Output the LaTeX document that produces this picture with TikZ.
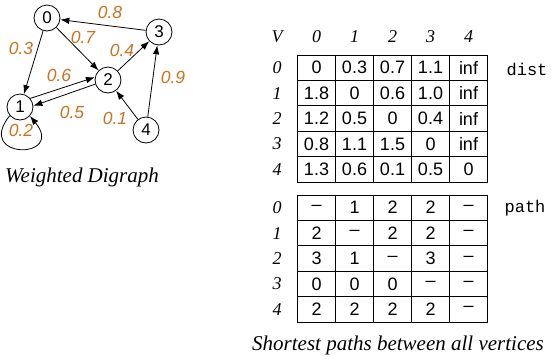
\documentclass[tikz,border=0pt]{standalone}
\usepackage{fontspec}
\setmainfont{Liberation Serif}
\newfontfamily\sansf{Liberation Sans}
\newfontfamily\monof{Liberation Mono}
\usetikzlibrary{arrows.meta}
\definecolor{wcol}{RGB}{200,115,30}
\begin{document}
\begin{tikzpicture}[x=1pt,y=-1pt,
  vert/.style={circle,draw,line width=0.8pt,minimum size=26pt,inner sep=0pt,font=\sansf\fontsize{17}{17}\selectfont},
  edge/.style={line width=0.8pt,-{Latex[length=9pt,width=6.5pt]}},
  wt/.style={text=wcol,font=\sansf\itshape\fontsize{17.5}{17.5}\selectfont,inner sep=0pt},
  cell/.style={draw,line width=0.8pt,minimum width=38pt,minimum height=25.4pt,inner sep=0pt,font=\sansf\fontsize{18}{18}\selectfont},
  lbl/.style={font=\itshape\fontsize{18}{18}\selectfont,inner sep=0pt},
  captext/.style={font=\itshape\fontsize{21}{21}\selectfont,inner sep=0pt},
  tag/.style={font=\monof\fontsize{17}{17}\selectfont,inner sep=0pt}]
\useasboundingbox (0,0) rectangle (556,360);
% graph
\node[vert] (n0) at (47,18) {0};
\node[vert] (n1) at (20,107) {1};
\node[vert] (n2) at (108,80) {2};
\node[vert] (n3) at (159,32) {3};
\node[vert] (n4) at (146,130) {4};
\draw[edge] (n3) -- (n0);
\draw[edge] (n0) -- (n1);
\draw[edge] (n0) -- (n2);
\draw[edge] (n2) -- (n3);
\draw[edge] (n1.40) -- (n2.168);
\draw[edge] (n2.198) -- (n1.5);
\draw[edge] (n4) -- (n2);
\draw[edge] (n4) -- (n3);
\draw[edge] (n1.220) .. controls (-26,160) and (66,160) .. (n1.-42);
\node[wt] (w8) at (110,12) {0.8};
\node[wt] (w7) at (83,37) {0.7};
\node[wt] (w3) at (21,48) {0.3};
\node[wt] (w6) at (59,75) {0.6};
\node[wt] (w4) at (122,50) {0.4};
\node[wt] (w9) at (173,77) {0.9};
\node[wt] (w5) at (72,112) {0.5};
\node[wt] (w1) at (115,118) {0.1};
\node[wt] (w2) at (21,130) {0.2};
\node[captext] (capg) at (82,177) {Weighted Digraph};
% table headers
\node[lbl] (hv) at (277,37) {V};
\foreach \c in {0,...,4}{
  \node[lbl] (h\c) at (316.5+38*\c,37) {\c};
  \node[lbl] (dr\c) at (277,67.7+25.4*\c) {\c};
  \node[lbl] (pr\c) at (277,207.7+25.4*\c) {\c};
}
% dist table
\foreach \row [count=\r from 0] in {{0,0.3,0.7,1.1,inf},{1.8,0,0.6,1.0,inf},{1.2,0.5,0,0.4,inf},{0.8,1.1,1.5,0,inf},{1.3,0.6,0.1,0.5,0}}{
  \foreach \v [count=\c from 0] in \row {
    \node[cell] (d\r\c) at (316.5+38*\c,67.7+25.4*\r) {\v};
  }
}
% path table
\foreach \row [count=\r from 0] in {{–,1,2,2,–},{2,–,2,2,–},{3,1,–,3,–},{0,0,0,–,–},{2,2,2,2,–}}{
  \foreach \v [count=\c from 0] in \row {
    \node[cell] (p\r\c) at (316.5+38*\c,207.7+25.4*\r) {\v};
  }
}
\node[tag] (tdist) at (527,69) {dist};
\node[tag] (tpath) at (525,208) {path};
\node[captext] (capt) at (398,345) {Shortest paths between all vertices};
\end{tikzpicture}
\end{document}
